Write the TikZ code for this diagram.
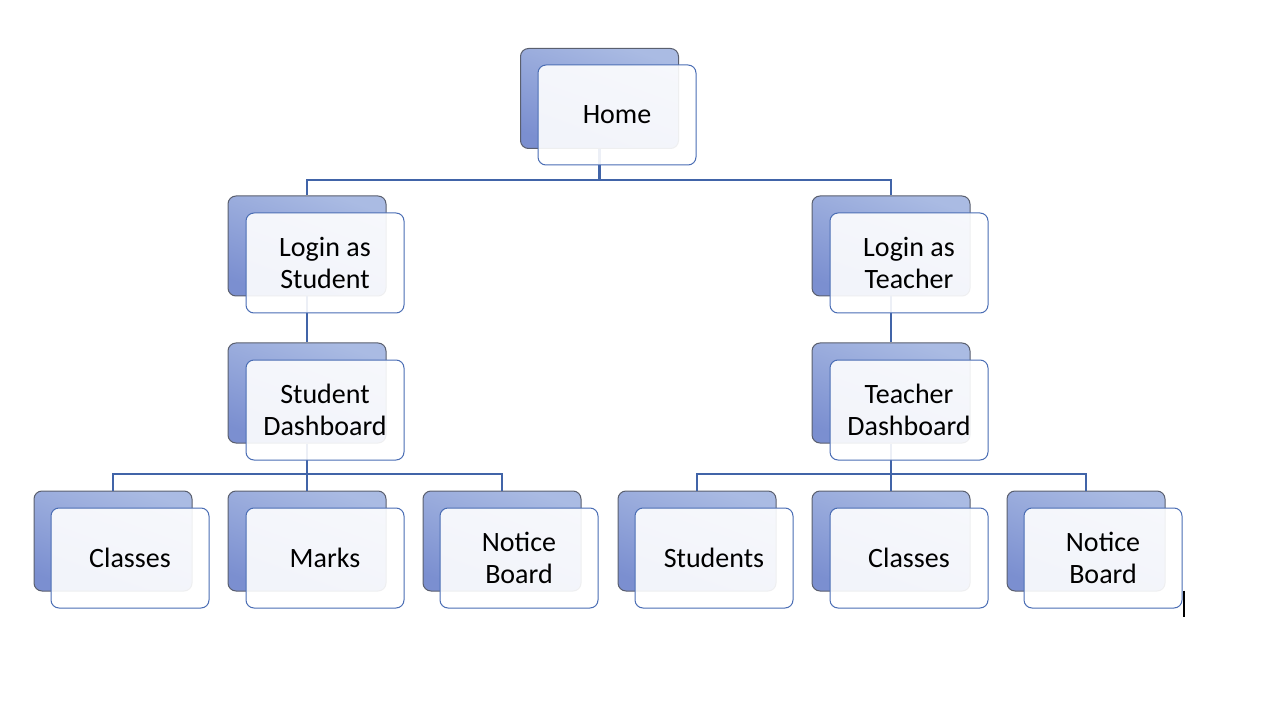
\documentclass[tikz,border=0pt]{standalone}
\usepackage{fontspec}
\setmainfont{Carlito}
\usepackage{tikz}

\definecolor{backtop}{HTML}{AABBE3}
\definecolor{backbot}{HTML}{7B8FD0}
\definecolor{backline}{HTML}{5A5F6E}
\definecolor{frontline}{HTML}{4A6DB4}
\definecolor{linkline}{HTML}{4164A8}

\begin{document}
\begin{tikzpicture}[x=1pt,y=-1pt,font=\fontsize{28}{32}\selectfont,
  back/.style={draw=backline,line width=1pt,rounded corners=8pt,top color=backtop,bottom color=backbot,shading angle=-20,minimum width=158pt,minimum height=100pt,inner sep=0pt},
  front/.style={draw=frontline,line width=1pt,rounded corners=8pt,fill=white,fill opacity=.9,text opacity=1,minimum width=158pt,minimum height=100pt,inner sep=0pt,align=center},
  link/.style={draw=linkline,line width=2.4pt}]
\useasboundingbox (0,0) rectangle (1280,703);
% back boxes
\node[back] (homeb) at (599.5,98.5) {};
\node[back] (stlogb) at (307,246) {};
\node[back] (tclogb) at (891,246) {};
\node[back] (stdashb) at (307,393) {};
\node[back] (tcdashb) at (891,393) {};
\node[back] (stclsb) at (113,541) {};
\node[back] (stmrkb) at (307,541) {};
\node[back] (stntcb) at (502,541) {};
\node[back] (tcstub) at (697,541) {};
\node[back] (tcclsb) at (891,541) {};
\node[back] (tcntcb) at (1086,541) {};
% links
\draw[link] (homeb.south) -- (599.5,180) -| (stlogb.north) (599.5,180) -| (tclogb.north);
\draw[link] (stlogb.south) -- (stdashb.north) (tclogb.south) -- (tcdashb.north);
\draw[link] (stdashb.south) -- (307,474) -| (stclsb.north) (307,474) -| (stntcb.north) (307,474) -- (stmrkb.north);
\draw[link] (tcdashb.south) -- (891,474) -| (tcstub.north) (891,474) -| (tcntcb.north) (891,474) -- (tcclsb.north);
% front boxes
\node[front] (home) at (617,115) {Home};
\node[front] (stlog) at (325,263) {Login as\\Student};
\node[front] (tclog) at (909,263) {Login as\\Teacher};
\node[front] (stdash) at (325,410) {Student\\Dashboard};
\node[front] (tcdash) at (909,410) {Teacher\\Dashboard};
\node[front] (stcls) at (130,558) {Classes};
\node[front] (stmrk) at (325,558) {Marks};
\node[front] (stntc) at (519,558) {Notice\\Board};
\node[front] (tcstu) at (714,558) {Students};
\node[front] (tccls) at (909,558) {Classes};
\node[front] (tcntc) at (1103,558) {Notice\\Board};
\draw[line width=1.2pt] (tcntc.south east) ++(1.5,-18) -- ++(0,26);
\end{tikzpicture}
\end{document}
